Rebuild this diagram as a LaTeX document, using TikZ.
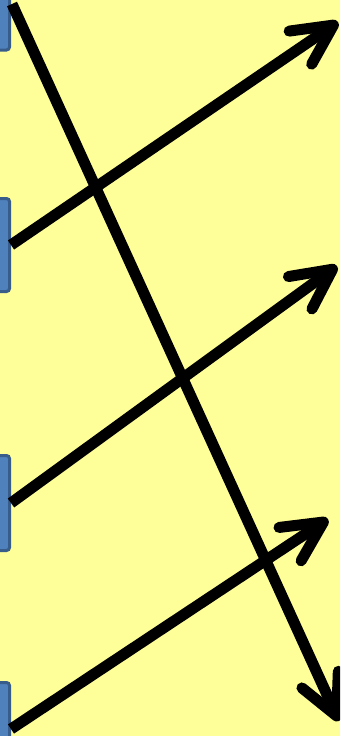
\documentclass[tikz,border=0pt]{standalone}
\usetikzlibrary{arrows.meta}
\definecolor{bg}{HTML}{FFFF99}
\definecolor{blkfill}{HTML}{4F81BD}
\definecolor{blkline}{HTML}{385D8A}
\tikzset{
  blk/.style={draw=blkline, fill=blkfill, line width=3pt, rounded corners=3pt,
    inner sep=0pt, minimum width=40pt, anchor=east},
  arr/.style={line width=11pt, black,
    -{Straight Barb[length=40pt,width=40pt,line cap=round,line join=round]}},
}
\begin{document}
\begin{tikzpicture}[x=1pt,y=-1pt]
\useasboundingbox (0,0) rectangle (340,736);
\clip (0,0) rectangle (340,736);
\fill[bg] (0,0) rectangle (340,736);
% blocks
\node[blk, minimum height=80pt] (r1) at (11,10) {};
\node[blk, minimum height=93pt] (r2) at (11,245) {};
\node[blk, minimum height=95pt] (r3) at (11,503) {};
\node[blk, minimum height=80pt] (r4) at (11,722.5) {};
% end points
\coordinate (s1) at (12,4);
\coordinate (s2) at (r2.east);
\coordinate (s3) at (r3.east);
\coordinate (s4) at (11,729);
\coordinate (t1) at (339,721);
\coordinate (t2) at (338,22);
\coordinate (t3) at (337,266);
\coordinate (t4) at (328,519);
% arrows
\draw[arr] (s1) -- (t1);
\draw[arr] (s2) -- (t2);
\draw[arr] (s3) -- (t3);
\draw[arr] (s4) -- (t4);
\end{tikzpicture}
\end{document}
